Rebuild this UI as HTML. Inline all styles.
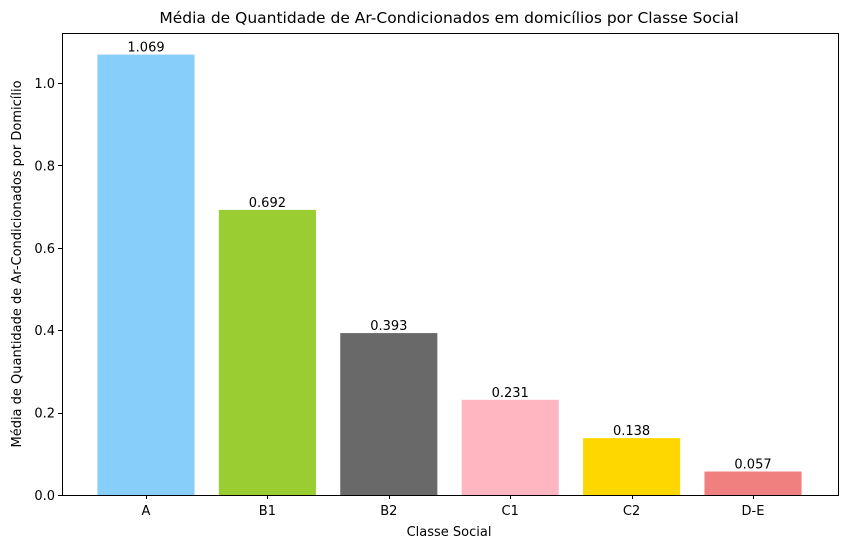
<!DOCTYPE html>
<html><head><meta charset="utf-8"><style>
html,body{margin:0;padding:0;background:#fff;}
svg text{font-family:"DejaVu Sans","Liberation Sans",sans-serif;fill:#000;}
</style></head><body>
<svg id="c" width="846" height="548" xmlns="http://www.w3.org/2000/svg">
<text x="449" y="23" font-size="15.5" text-anchor="middle">Média de Quantidade de Ar-Condicionados em domicílios por Classe Social</text>
<text x="449" y="536" font-size="13" text-anchor="middle">Classe Social</text>
<text transform="translate(21,264) rotate(-90)" font-size="13" text-anchor="middle">Média de Quantidade de Ar-Condicionados por Domicílio</text>
<g id="bars"></g><g id="axes" shape-rendering="crispEdges"></g>
</svg>
<script>
const categories=["A","B1","B2","C1","C2","D-E"];
const values=[1.069,0.692,0.393,0.231,0.138,0.057];
const colors=["#87cefa","#9acd32","#696969","#ffb6c1","#ffd700","#f08080"];
const yTicks=[0,0.2,0.4,0.6,0.8,1.0];
const L=62,R=838,T=33,B=495;
const yScale=v=>B-v*412;
const step=121.4;
const xScale=i=>146+i*step;
const bw=0.8*step;
const ns="http://www.w3.org/2000/svg";
const bars=document.getElementById('bars'),axes=document.getElementById('axes');
function mk(tag,attrs,parent){const e=document.createElementNS(ns,tag);for(const k in attrs)e.setAttribute(k,attrs[k]);parent.appendChild(e);return e;}
categories.forEach((c,i)=>{
  const r=mk('rect',{x:xScale(i)-bw/2,y:yScale(values[i]),width:bw,height:B-yScale(values[i]),fill:colors[i]},bars);
  
  
  const t=mk('text',{x:xScale(i),y:yScale(values[i])-3,'font-size':13,'text-anchor':'middle'},bars);
  t.textContent=values[i].toFixed(3);
  
  
  mk('line',{x1:Math.round(xScale(i))+0.5,x2:Math.round(xScale(i))+0.5,y1:B,y2:B+4,stroke:'#000'},axes);
  const xl=mk('text',{x:xScale(i),y:B+20,'font-size':13,'text-anchor':'middle'},axes);
  xl.textContent=c;
  
  
});
yTicks.forEach(v=>{
  const y=Math.round(yScale(v))+0.5;
  mk('line',{x1:L-4,x2:L,y1:y,y2:y,stroke:'#000'},axes);
  const t=mk('text',{x:L-7,y:yScale(v)+5,'font-size':13,'text-anchor':'end'},axes);
  t.textContent=v.toFixed(1);
  
  
});
const f=mk('rect',{x:L+0.5,y:T+0.5,width:R-L,height:B-T,fill:'none',stroke:'#000','stroke-width':1},axes);


</script>
</body></html>
